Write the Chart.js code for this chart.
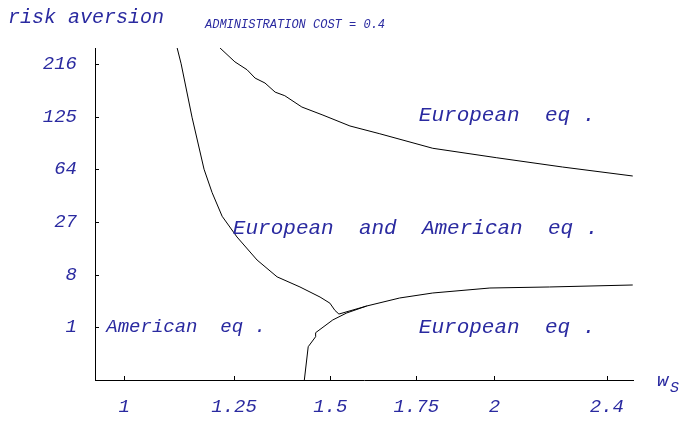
<!DOCTYPE html>
<html>
<head>
<meta charset="utf-8">
<script src="https://cdn.jsdelivr.net/npm/chart.js@4.4.1/dist/chart.umd.min.js"></script>
<style>
  html, body { margin: 0; padding: 0; background: #fff; }
</style>
</head>
<body>
<canvas id="chart" width="685" height="421"></canvas>
<script>
// both axes use a cube-root scale (ticks 1, 8, 27 ... are equally spaced)
const xTicks = [1, 1.25, 1.5, 1.75, 2, 2.4];
const yTicks = [1, 8, 27, 64, 125, 216];

// upper boundary (European eq. above it)
const upperW = [1.216, 1.252, 1.282, 1.302, 1.327, 1.353, 1.378, 1.423, 1.480, 1.555, 1.641, 1.801, 2.008, 2.237, 2.499];
const upperR = [250, 220, 204, 188, 179, 163, 157, 139, 127, 112, 102, 85, 75, 66, 58];

// left boundary (American eq. to the left)
const leftW = [1.116, 1.125, 1.150, 1.178, 1.197, 1.221, 1.257, 1.307, 1.358, 1.418, 1.472, 1.499, 1.513, 1.524, 1.603];
const leftR = [250, 216, 124, 64, 45, 30, 20, 11.8, 7.5, 5.5, 3.9, 3.1, 2.3, 1.96, 2.77];

// lower boundary (European eq. below it)
const lowerW = [1.4296, 1.440, 1.4534, 1.460, 1.460, 1.507, 1.546, 1.603, 1.700, 1.801, 1.985, 2.19, 2.499];
const lowerR = [0, 0.252, 0.437, 0.555, 0.723, 1.48, 2.06, 2.77, 3.77, 4.50, 5.32, 5.50, 5.86];

const textColor = '#2a2aa0';
const monoFont = '"Liberation Mono", "DejaVu Sans Mono", monospace';

const toPoints = (ws, rs) => ws.map((w, i) => ({ x: Math.cbrt(w), y: Math.cbrt(rs[i]) }));

const lineStyle = {
    showLine: true,
    borderColor: '#000',
    borderWidth: 1,
    pointRadius: 0,
    tension: 0,
    fill: false
};

// etiquetas de regiones, marcas hacia dentro y textos de los ejes
const annotations = {
    id: 'annotations',
    afterDraw(chart) {
        const { ctx, chartArea, scales: { x, y } } = chart;
        ctx.save();

        // inward tick marks
        ctx.strokeStyle = '#000';
        ctx.lineWidth = 1;
        ctx.beginPath();
        xTicks.forEach(v => {
            const px = Math.round(x.getPixelForValue(Math.cbrt(v))) + 0.5;
            ctx.moveTo(px, chartArea.bottom);
            ctx.lineTo(px, chartArea.bottom - 4);
        });
        yTicks.forEach(v => {
            const py = Math.round(y.getPixelForValue(Math.cbrt(v))) + 0.5;
            ctx.moveTo(chartArea.left, py);
            ctx.lineTo(chartArea.left + 4, py);
        });
        ctx.stroke();

        ctx.fillStyle = textColor;
        ctx.textBaseline = 'middle';
        ctx.textAlign = 'left';

        const place = (txt, w, r, size) => {
            ctx.font = 'italic ' + size + 'px ' + monoFont;
            ctx.fillText(txt, x.getPixelForValue(Math.cbrt(w)), y.getPixelForValue(Math.cbrt(r)));
        };
        place('European  eq .', 1.758, 127, 21);
        place('European  and  American  eq .', 1.247, 24, 21);
        place('American  eq .', 0.963, 1, 19);
        place('European  eq .', 1.758, 1, 21);

        // axis labels
        ctx.font = 'italic 20px ' + monoFont;
        ctx.fillText('risk aversion', 8, 18);
        ctx.font = 'italic 19px ' + monoFont;
        ctx.fillText('w', 657, 381);
        ctx.font = 'italic 15px ' + monoFont;
        ctx.fillText('S', 670, 388);

        // title
        ctx.font = 'italic 12px ' + monoFont;
        ctx.fillText('ADMINISTRATION COST = 0.4', 205, 25);

        ctx.restore();
    }
};

new Chart(document.getElementById('chart'), {
    type: 'scatter',
    data: {
        datasets: [
            { data: toPoints(upperW, upperR), ...lineStyle },
            { data: toPoints(leftW, leftR), ...lineStyle },
            { data: toPoints(lowerW, lowerR), ...lineStyle }
        ]
    },
    options: {
        responsive: false,
        animation: false,
        devicePixelRatio: 1,
        events: [],
        layout: { padding: { top: 48, right: 52, left: 0, bottom: 0 } },
        plugins: {
            legend: { display: false },
            tooltip: { enabled: false }
        },
        scales: {
            x: {
                type: 'linear',
                min: Math.cbrt(0.94),
                max: Math.cbrt(2.5),
                afterBuildTicks: s => { s.ticks = xTicks.map(v => ({ value: Math.cbrt(v) })); },
                afterFit: s => { s.height = 41; },
                grid: { display: false, drawTicks: false },
                border: { display: true, color: '#000', width: 1 },
                ticks: {
                    color: textColor,
                    font: { family: monoFont, size: 19, style: 'italic' },
                    padding: 16,
                    maxRotation: 0,
                    autoSkip: false,
                    callback: (value, index) => String(xTicks[index])
                }
            },
            y: {
                type: 'linear',
                min: 0,
                max: 6.3,
                afterBuildTicks: s => { s.ticks = yTicks.map(v => ({ value: Math.cbrt(v) })); },
                afterFit: s => { s.width = 95; },
                grid: { display: false, drawTicks: false },
                border: { display: true, color: '#000', width: 1 },
                ticks: {
                    color: textColor,
                    font: { family: monoFont, size: 19, style: 'italic' },
                    padding: 18,
                    autoSkip: false,
                    callback: (value, index) => String(yTicks[index])
                }
            }
        }
    },
    plugins: [annotations]
});
</script>
</body>
</html>
